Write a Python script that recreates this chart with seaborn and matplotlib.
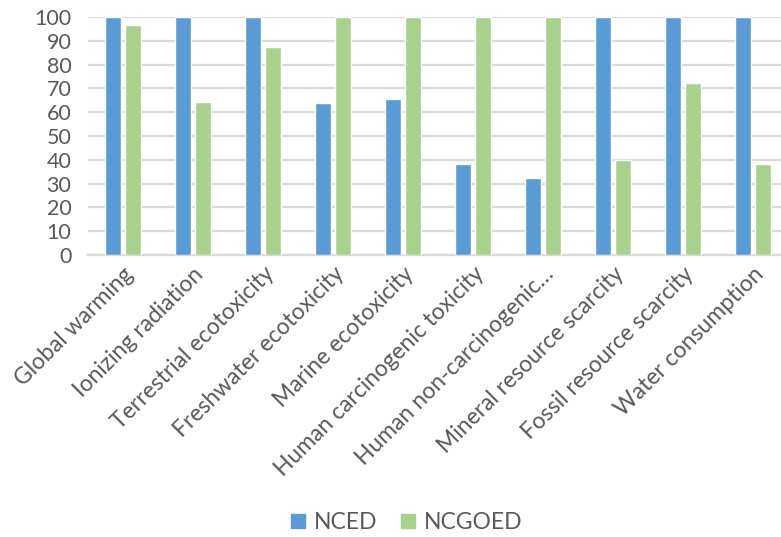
import matplotlib
matplotlib.use("Agg")
import matplotlib.pyplot as plt
import seaborn as sns
import pandas as pd
from matplotlib.patches import Patch

categories = ["Global warming", "Ionizing radiation", "Terrestrial ecotoxicity",
              "Freshwater ecotoxicity", "Marine ecotoxicity", "Human carcinogenic toxicity",
              "Human non-carcinogenic…", "Mineral resource scarcity",
              "Fossil resource scarcity", "Water consumption"]
nced = [100, 100, 100, 63.8, 65.5, 38.1, 32.3, 100, 100, 100]
ncgoed = [96.8, 64.4, 87.2, 100, 100, 100, 100, 40.0, 72.4, 38.3]
series = ["NCED", "NCGOED"]
yticks = list(range(0, 101, 10))

df = pd.DataFrame({
    "category": categories * 2,
    "value": nced + ncgoed,
    "series": [series[0]] * len(categories) + [series[1]] * len(categories),
})

sns.set_theme(style="white")
plt.rcParams['font.family'] = ['Lato', 'DejaVu Sans']
text_color = "#595959"
colors = ["#5B9BD5", "#A9D18E"]

fig = plt.figure(figsize=(7.81, 5.37), dpi=100)
ax = fig.add_axes([88/781, (537-255)/537, 700/781, 238/537])

sns.barplot(data=df, x="category", y="value", hue="series", order=categories,
            hue_order=series, palette=colors, width=0.571, gap=0.2,
            ax=ax, legend=False, saturation=1, zorder=3)

ax.set_ylim(0, 100)
ax.set_xlim(-0.5, 9.5)
ax.set_yticks(yticks)
ax.yaxis.grid(True, color="#D9D9D9", linewidth=1.6, zorder=0)
ax.set_axisbelow(True)
for s in ["top", "right", "left"]:
    ax.spines[s].set_visible(False)
ax.spines["bottom"].set_color("#D9D9D9")
ax.spines["bottom"].set_linewidth(1.6)
ax.set_xlabel("")
ax.set_ylabel("")
ax.tick_params(axis="x", length=0, labelsize=16.5, colors=text_color, pad=6)
ax.tick_params(axis="y", length=0, labelsize=15.5, colors=text_color, pad=12)
plt.setp(ax.get_xticklabels(), rotation=45, ha="right", rotation_mode="anchor")

handles = [Patch(color=colors[0]), Patch(color=colors[1])]
leg = fig.legend(handles, series, loc="center", bbox_to_anchor=(0.521, 0.027), ncol=2,
                 frameon=False, fontsize=16.5, handlelength=0.6, handleheight=0.6,
                 handletextpad=0.4, columnspacing=1.05)
for t in leg.get_texts():
    t.set_color(text_color)

fig.savefig("out.png", dpi=100)
